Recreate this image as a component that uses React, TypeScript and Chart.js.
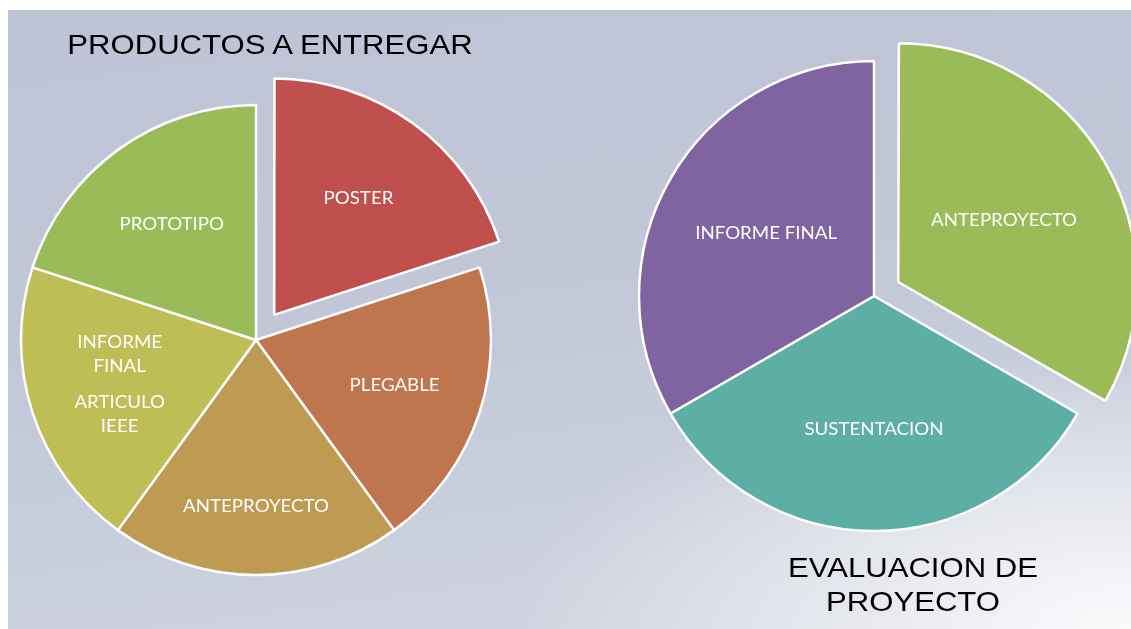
import React, { useEffect, useRef } from "react";
import { Chart, registerables } from "chart.js";

Chart.register(...registerables);

// ---- Data ----
const leftTitle = "PRODUCTOS A ENTREGAR";
const leftCategories = ["POSTER", "PLEGABLE", "ANTEPROYECTO", "INFORME FINAL ARTICULO IEEE", "PROTOTIPO"];
const leftLabelLines = [["POSTER"], ["PLEGABLE"], ["ANTEPROYECTO"], ["INFORME", "FINAL", "", "ARTICULO", "IEEE"], ["PROTOTIPO"]];
const leftValues = [20, 20, 20, 20, 20];
const leftColors = ["#C0504D", "#BF764F", "#BF9A52", "#BEBD56", "#9BBB59"];
const leftExploded = [true, false, false, false, false];

const rightTitle = ["EVALUACION DE", "PROYECTO"];
const rightCategories = ["ANTEPROYECTO", "SUSTENTACION", "INFORME FINAL"];
const rightLabelLines = [["ANTEPROYECTO"], ["SUSTENTACION"], ["INFORME FINAL"]];
const rightValues = [33.3, 33.3, 33.3];
const rightColors = ["#9BBB59", "#5DAEA5", "#8064A2"];
const rightExploded = [true, false, false];

// ---- Styles ----
const W = 1123;
const H = 619;

const sliceLabels = {
  id: "sliceLabels",
  afterDatasetsDraw(chart: any, _args: any, opts: any) {
    const meta = chart.getDatasetMeta(0);
    const ctx = chart.ctx;
    ctx.save();
    ctx.font = `${opts.size}px ${opts.family}`;
    ctx.fillStyle = opts.color;
    ctx.textAlign = "center";
    ctx.textBaseline = "middle";
    meta.data.forEach((arc: any, i: number) => {
      const p = arc.getProps(["x", "y", "startAngle", "endAngle", "outerRadius"], true);
      const mid = (p.startAngle + p.endAngle) / 2;
      const off = (arc.options.offset || 0) / 4;
      const r = p.outerRadius * opts.fractions[i] + off;
      const cx = p.x + Math.cos(mid) * r;
      const cy = p.y + Math.sin(mid) * r;
      const lines: string[] = opts.lines[i];
      let total = 0;
      lines.forEach((l) => (total += l === "" ? opts.gap : opts.lineHeight));
      let yy = cy - total / 2;
      lines.forEach((l) => {
        if (l === "") {
          yy += opts.gap;
          return;
        }
        ctx.save();
        ctx.translate(cx, yy + opts.lineHeight / 2);
        ctx.scale(opts.stretch, 1);
        ctx.fillText(l, 0, 0);
        ctx.restore();
        yy += opts.lineHeight;
      });
    });
    ctx.restore();
  },
};

function makeConfig(
  labels: string[],
  values: number[],
  colors: string[],
  exploded: boolean[],
  explodePx: number,
  radius: number,
  padding: any,
  lines: string[][],
  fractions: number[]
): any {
  return {
    type: "pie",
    data: {
      labels,
      datasets: [
        {
          data: values,
          backgroundColor: colors,
          borderColor: "#ffffff",
          borderWidth: 2.5,
          offset: exploded.map((e) => (e ? explodePx * 4 : 0)),
          radius,
        },
      ],
    },
    options: {
      responsive: false,
      animation: false,
      events: [],
      radius,
      layout: { padding },
      plugins: {
        legend: { display: false },
        tooltip: { enabled: false },
        title: { display: false },
        sliceLabels: {
          lines,
          fractions,
          size: 17,
          family: "Lato, 'Open Sans', sans-serif",
          color: "#ffffff",
          lineHeight: 24,
          gap: 12,
          stretch: 1.1,
        },
      },
    },
    plugins: [sliceLabels],
  };
}

function PieCanvas({ config }: { config: any }) {
  const ref = useRef<HTMLCanvasElement | null>(null);
  useEffect(() => {
    if (!ref.current) return;
    const chart = new Chart(ref.current, config);
    return () => chart.destroy();
  }, []);
  return (
    <canvas
      ref={ref}
      width={W}
      height={H}
      style={{ position: "absolute", left: 0, top: 0, width: W, height: H }}
    />
  );
}

const titleStyle: React.CSSProperties = {
  position: "absolute",
  width: 500,
  textAlign: "center",
  fontFamily: "'Liberation Sans', Arial, sans-serif",
  fontSize: 28,
  lineHeight: "34px",
  color: "#000",
  whiteSpace: "nowrap",
  transform: "scaleX(1.11)",
  transformOrigin: "center",
};

export default function App() {
  const leftConfig = makeConfig(
    leftCategories,
    leftValues,
    leftColors,
    leftExploded,
    31,
    235,
    { left: 0, right: 627, top: 41, bottom: 0 },
    leftLabelLines,
    [0.61, 0.62, 0.71, 0.61, 0.61]
  );
  const rightConfig = makeConfig(
    rightCategories,
    rightValues,
    rightColors,
    rightExploded,
    28,
    235,
    { left: 609, right: 0, top: 0, bottom: 47 },
    rightLabelLines,
    [0.52, 0.57, 0.53]
  );
  return (
    <div
      style={{
        position: "absolute",
        left: 8,
        top: 10,
        width: W,
        height: H,
        overflow: "hidden",
        background:
          "radial-gradient(ellipse 55% 45% at 100% 100%, rgba(250,250,252,1) 0%, rgba(240,241,245,0.85) 35%, rgba(230,233,239,0) 100%), linear-gradient(172deg, #bec4d5 0%, #c1c7d7 45%, #d2d6e1 100%)",
      }}
    >
      <PieCanvas config={leftConfig} />
      <PieCanvas config={rightConfig} />
      <div style={{ ...titleStyle, left: 12, top: 18 }}>{leftTitle}</div>
      <div style={{ ...titleStyle, left: 655, top: 541 }}>
        {rightTitle[0]}
        <br />
        {rightTitle[1]}
      </div>
    </div>
  );
}
